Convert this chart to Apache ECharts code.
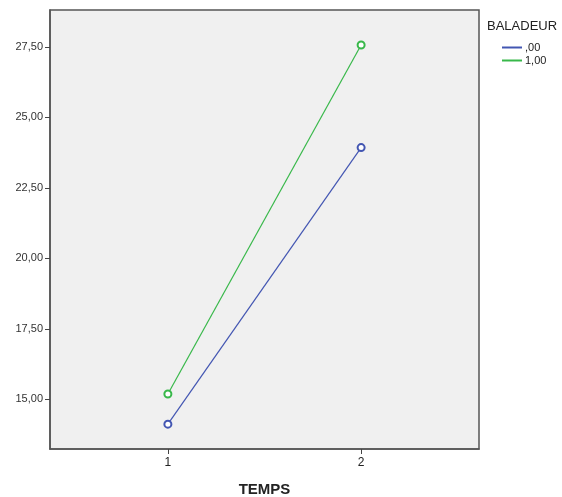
<!DOCTYPE html>
<html><head><meta charset="utf-8">
<script src="https://cdn.jsdelivr.net/npm/echarts@6/dist/echarts.min.js"></script>
<style>html,body{margin:0;padding:0;background:#fff}#c{width:562px;height:497px}</style>
</head><body><div id="c"></div>
<script>
const temps = [1, 2];
const yTicks = [15, 17.5, 20, 22.5, 25, 27.5];
const seriesNames = [',00', '1,00'];
const values00 = [14.12, 23.93];
const values100 = [15.19, 27.57];
const colors = ['#4356b2', '#38b84a'];

const chart = echarts.init(document.getElementById('c'));
const mk = (name, vals, color) => ({
  name, type: 'line', data: temps.map((t, i) => [t, vals[i]]),
  symbol: 'emptyCircle', symbolSize: 7, showSymbol: true,
  lineStyle: { color, width: 1.2 }, itemStyle: { color, borderWidth: 1 },
  emphasis: { disabled: true }, animation: false
});
chart.setOption({
  animation: false,
  grid: { left: 50, top: 10, right: 83, bottom: 48, outerBoundsMode: 'none', containLabel: false,
    show: true, backgroundColor: '#f0f0f0', borderColor: '#555', borderWidth: 1.5 },
  xAxis: {
    type: 'value', min: 0.39, max: 2.61,
    name: 'TEMPS', nameLocation: 'middle', nameGap: 33,
    nameTextStyle: { fontFamily: 'Liberation Sans', fontWeight: 'bold', fontSize: 15, color: '#222' },
    axisLine: { show: true, onZero: false, lineStyle: { color: '#555', width: 1.5 } },
    axisTick: { show: true, customValues: temps, length: 5, lineStyle: { color: '#444' } },
    axisLabel: { customValues: temps, fontFamily: 'Liberation Sans', fontSize: 12, color: '#222', margin: 8 },
    splitLine: { show: false }
  },
  yAxis: {
    type: 'value', min: 13.24, max: 28.81,
    axisLine: { show: true, onZero: false, lineStyle: { color: '#555', width: 1.5 } },
    axisTick: { show: true, customValues: yTicks, length: 5, lineStyle: { color: '#444' } },
    axisLabel: { customValues: yTicks, fontFamily: 'Liberation Sans', fontSize: 11, color: '#333', margin: 7,
      formatter: v => v.toFixed(2).replace('.', ',') },
    splitLine: { show: false }
  },
  legend: {
    top: 42, orient: 'vertical', left: 502,
    icon: 'rect', itemWidth: 20, itemHeight: 2, itemGap: 2, padding: 0,
    textStyle: { fontFamily: 'Liberation Sans', fontSize: 11, color: '#222', padding: [0,0,0,-2] },
    data: seriesNames, selectedMode: false
  },
  graphic: [{ type: 'text', left: 487, top: 20, style: { text: 'BALADEUR', font: '13px "Liberation Sans"', fill: '#222' } }],
  series: [mk(seriesNames[0], values00, colors[0]), mk(seriesNames[1], values100, colors[1])]
});
</script></body></html>
